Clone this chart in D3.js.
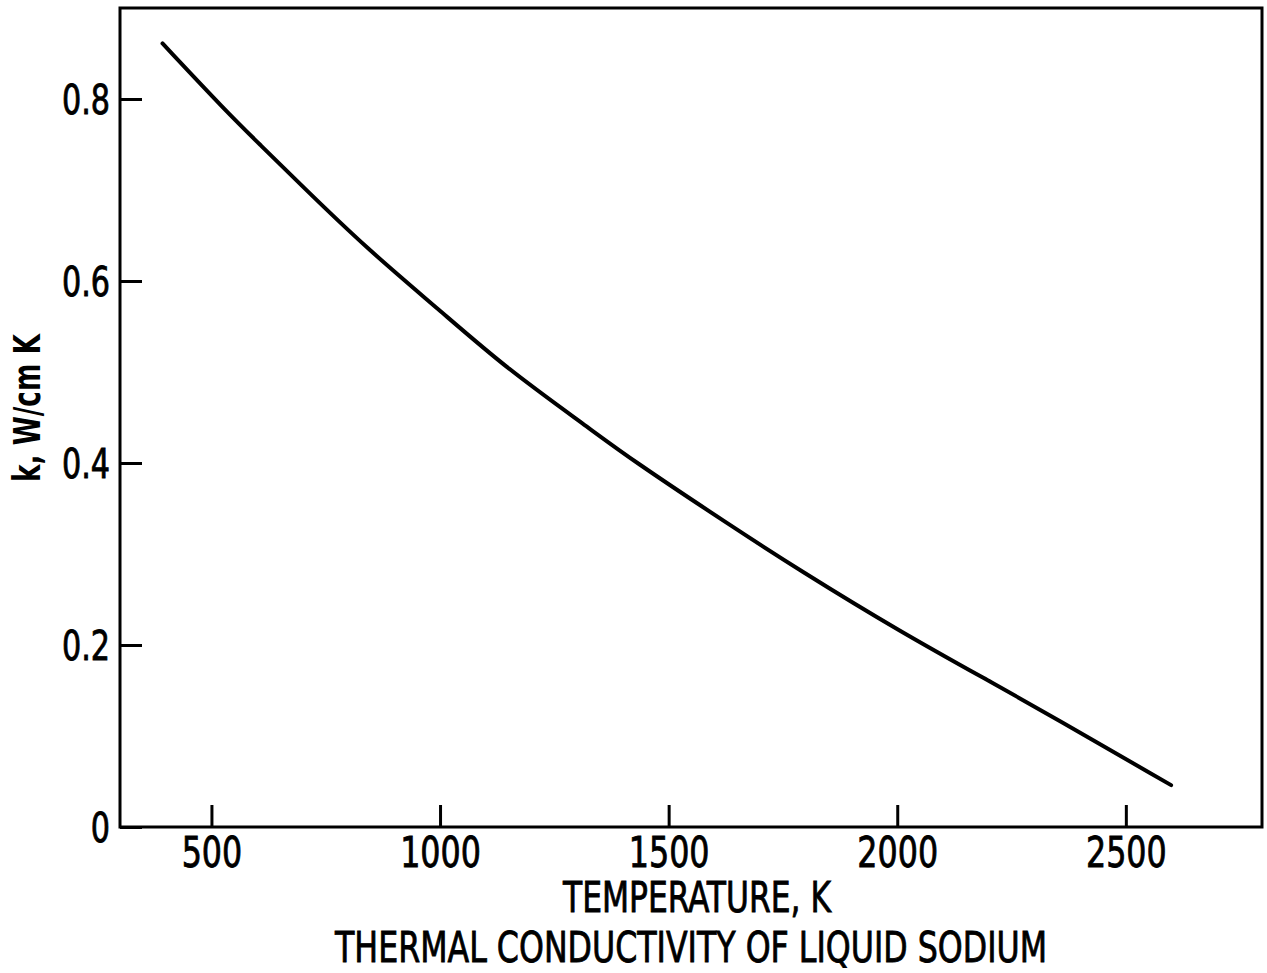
<!DOCTYPE html>
<html>
<head>
<meta charset="utf-8">
<script src="https://cdn.jsdelivr.net/npm/d3@7"></script>
<style>
  html, body { margin: 0; padding: 0; background: #fff; }
  svg { display: block; }
  text { font-family: "Liberation Sans Narrow", "DejaVu Sans Condensed", "Liberation Sans", sans-serif; fill: #000; }
  .heavy { stroke: #000; stroke-width: 0.8px; }
</style>
</head>
<body>
<script>
// Thermal conductivity of liquid sodium, k (W/cm K) versus temperature (K)
const temperatures = [393, 533, 606, 693, 839, 999, 1145, 1327, 1415, 1633, 1787, 2005, 2224, 2333, 2599];
const conductivity = [0.861, 0.786, 0.750, 0.707, 0.636, 0.568, 0.504, 0.438, 0.405, 0.332, 0.282, 0.215, 0.154, 0.123, 0.046];
const xTicks = [500, 1000, 1500, 2000, 2500];
const yTicks = [0, 0.2, 0.4, 0.6, 0.8];
const yTickLabels = ["0", "0.2", "0.4", "0.6", "0.8"];

const W = 1267, H = 973;
const plotLeft = 120, plotRight = 1263, plotTop = 8, plotBottom = 827;

const svg = d3.select("body").append("svg").attr("width", W).attr("height", H);

const x = d3.scaleLinear().domain([300, 2800]).range([plotLeft, plotRight]);
const y = d3.scaleLinear().domain([0, 0.9]).range([plotBottom, plotTop]);

// Inward-pointing ticks on the bottom and left edges
const xAxis = d3.axisBottom(x).tickValues(xTicks).tickSize(-22).tickFormat(d3.format("d"));
const yAxis = d3.axisLeft(y).tickValues(yTicks).tickSize(-22)
  .tickFormat((d, i) => yTickLabels[i]);

const gx = svg.append("g").attr("transform", `translate(0,${plotBottom})`).call(xAxis);
const gy = svg.append("g").attr("transform", `translate(${plotLeft},0)`).call(yAxis);

[gx, gy].forEach(g => {
  g.select(".domain").remove();
  g.selectAll(".tick line").attr("stroke", "#000").attr("stroke-width", 3);
});
gx.selectAll(".tick text").attr("font-size", 42).attr("dy", "0.72em").attr("y", 10);
gy.selectAll(".tick text").attr("font-size", 40).attr("dy", "0.36em").attr("x", -10);

// Narrow the tick digits to the tall, condensed lettering style
svg.selectAll(".tick text").classed("heavy", true).each(function () {
  const len = this.getComputedTextLength();
  d3.select(this).attr("textLength", len * 0.84).attr("lengthAdjust", "spacingAndGlyphs");
});

// Plot frame
svg.append("rect")
  .attr("x", plotLeft).attr("y", plotTop)
  .attr("width", plotRight - plotLeft - 1).attr("height", plotBottom - plotTop)
  .attr("fill", "none").attr("stroke", "#000").attr("stroke-width", 3);

// Conductivity curve
const line = d3.line()
  .x((d, i) => x(temperatures[i]))
  .y(d => y(d))
  .curve(d3.curveBasis);

svg.append("path")
  .datum(conductivity)
  .attr("d", line)
  .attr("fill", "none")
  .attr("stroke", "#000")
  .attr("stroke-width", 4)
  .attr("stroke-linecap", "round");

// Axis titles and caption
svg.append("text")
  .attr("class", "heavy")
  .attr("x", 697).attr("y", 912)
  .attr("text-anchor", "middle")
  .attr("font-size", 42)
  .attr("textLength", 268).attr("lengthAdjust", "spacingAndGlyphs")
  .text("TEMPERATURE, K");

svg.append("text")
  .attr("class", "heavy")
  .attr("x", 691).attr("y", 962)
  .attr("text-anchor", "middle")
  .attr("font-size", 42)
  .attr("textLength", 712).attr("lengthAdjust", "spacingAndGlyphs")
  .text("THERMAL CONDUCTIVITY OF LIQUID SODIUM");

svg.append("text")
  .attr("transform", "translate(40,408) rotate(-90)")
  .attr("text-anchor", "middle")
  .attr("font-size", 37)
  .attr("font-weight", "bold")
  .attr("textLength", 148).attr("lengthAdjust", "spacingAndGlyphs")
  .text("k, W/cm K");
</script>
</body>
</html>
